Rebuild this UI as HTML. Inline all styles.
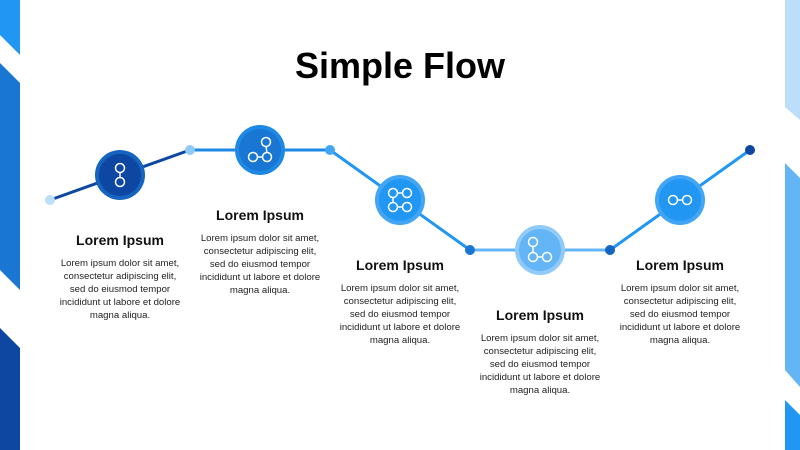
<!DOCTYPE html>
<html><head><meta charset="utf-8"><style>
body{margin:0;width:800px;height:450px;overflow:hidden;background:#fff;font-family:"Liberation Sans",sans-serif}
.t{position:absolute;width:160px;text-align:center;color:#111}
.t b{display:block;font-size:14px;line-height:18px;margin-bottom:8px}
.t span{display:block;font-size:9.6px;line-height:13px;color:#222}
</style></head><body>
<svg width="800" height="450" style="position:absolute;left:0;top:0">
<polygon points="0,0 20,0 20,55 0,35" fill="#2196f3"/>
<polygon points="0,63 20,83 20,290 0,270" fill="#1976d2"/>
<polygon points="0,328 20,348 20,450 0,450" fill="#0d47a1"/>
<polygon points="785,0 800,0 800,120 785,107" fill="#bbdefb"/>
<polygon points="785,163 800,178 800,387 785,370" fill="#64b5f6"/>
<polygon points="785,400 800,415 800,450 785,450" fill="#2196f3"/>
<text x="400" y="78" text-anchor="middle" font-family="Liberation Sans" font-weight="bold" font-size="36" fill="#000">Simple Flow</text>
<g stroke-width="3" fill="none">
<line x1="50" y1="200" x2="190" y2="150" stroke="#0d47a1"/>
<line x1="190" y1="150" x2="330" y2="150" stroke="#1e88e5"/>
<line x1="330" y1="150" x2="470" y2="250" stroke="#2196f3"/>
<line x1="470" y1="250" x2="610" y2="250" stroke="#64b5f6"/>
<line x1="610" y1="250" x2="750" y2="150" stroke="#2196f3"/>
</g>
<circle cx="50" cy="200" r="5" fill="#bbdefb"/>
<circle cx="190" cy="150" r="5" fill="#90caf9"/>
<circle cx="330" cy="150" r="5" fill="#42a5f5"/>
<circle cx="470" cy="250" r="5" fill="#1976d2"/>
<circle cx="610" cy="250" r="5" fill="#1565c0"/>
<circle cx="750" cy="150" r="5" fill="#0d47a1"/>
<circle cx="120" cy="175" r="25" fill="#1565c0"/><circle cx="120" cy="175" r="21" fill="#0d47a1"/>
<circle cx="260" cy="150" r="25" fill="#1e88e5"/><circle cx="260" cy="150" r="21" fill="#1976d2"/>
<circle cx="400" cy="200" r="25" fill="#42a5f5"/><circle cx="400" cy="200" r="21" fill="#2196f3"/>
<circle cx="540" cy="250" r="25" fill="#90caf9"/><circle cx="540" cy="250" r="21" fill="#64b5f6"/>
<circle cx="680" cy="200" r="25" fill="#42a5f5"/><circle cx="680" cy="200" r="21" fill="#2196f3"/>
<g stroke="#fff" stroke-width="1.5" fill="none">
<circle cx="120" cy="168" r="4.5"/><circle cx="120" cy="182" r="4.5"/><line x1="120" y1="172" x2="120" y2="178"/>
<circle cx="266" cy="142" r="4.5"/><circle cx="253" cy="157" r="4.5"/><circle cx="267" cy="157" r="4.5"/><line x1="266" y1="146" x2="267" y2="153"/><line x1="257" y1="157" x2="263" y2="157"/>
<circle cx="393" cy="193" r="4.5"/><circle cx="407" cy="193" r="4.5"/><circle cx="393" cy="207" r="4.5"/><circle cx="407" cy="207" r="4.5"/><line x1="397" y1="193" x2="403" y2="193"/><line x1="397" y1="207" x2="403" y2="207"/><line x1="393" y1="197" x2="393" y2="203"/>
<circle cx="533" cy="242" r="4.5"/><circle cx="533" cy="257" r="4.5"/><circle cx="547" cy="257" r="4.5"/><line x1="533" y1="246" x2="533" y2="253"/><line x1="537" y1="257" x2="543" y2="257"/>
<circle cx="673" cy="200" r="4.5"/><circle cx="687" cy="200" r="4.5"/><line x1="677" y1="200" x2="683" y2="200"/>
</g>
</svg>
<div class="t" style="left:40px;top:231px"><b>Lorem Ipsum</b><span>Lorem ipsum dolor sit amet,<br>consectetur adipiscing elit,<br>sed do eiusmod tempor<br>incididunt ut labore et dolore<br>magna aliqua.</span></div>
<div class="t" style="left:180px;top:206px"><b>Lorem Ipsum</b><span>Lorem ipsum dolor sit amet,<br>consectetur adipiscing elit,<br>sed do eiusmod tempor<br>incididunt ut labore et dolore<br>magna aliqua.</span></div>
<div class="t" style="left:320px;top:256px"><b>Lorem Ipsum</b><span>Lorem ipsum dolor sit amet,<br>consectetur adipiscing elit,<br>sed do eiusmod tempor<br>incididunt ut labore et dolore<br>magna aliqua.</span></div>
<div class="t" style="left:460px;top:306px"><b>Lorem Ipsum</b><span>Lorem ipsum dolor sit amet,<br>consectetur adipiscing elit,<br>sed do eiusmod tempor<br>incididunt ut labore et dolore<br>magna aliqua.</span></div>
<div class="t" style="left:600px;top:256px"><b>Lorem Ipsum</b><span>Lorem ipsum dolor sit amet,<br>consectetur adipiscing elit,<br>sed do eiusmod tempor<br>incididunt ut labore et dolore<br>magna aliqua.</span></div>
</body></html>
